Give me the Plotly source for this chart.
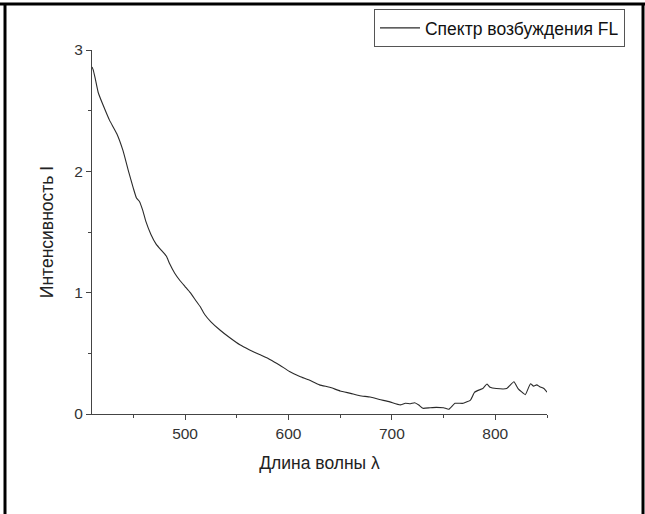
import plotly.graph_objects as go

# Wavelength (nm) and intensity
wavelength = [410, 411, 413, 416, 421, 427, 434, 440, 445, 450, 453, 456, 459, 462, 467,
              472, 478, 482, 485, 490, 495, 500, 505, 510, 515, 519, 525, 534, 543,
              553, 562, 572, 582, 592, 601, 611, 620, 630, 640, 650, 660, 669, 679,
              688, 698, 708, 713, 718, 722, 726, 730, 737, 743, 750, 755, 761, 769,
              776, 780, 785, 788, 792, 795, 801, 811, 818, 822, 829, 834, 837, 840,
              843, 847, 850]
intensity = [2.86, 2.84, 2.77, 2.65, 2.54, 2.42, 2.31, 2.17, 2.01, 1.86, 1.78, 1.75, 1.68, 1.59, 1.48,
             1.40, 1.34, 1.30, 1.24, 1.16, 1.10, 1.05, 1.00, 0.94, 0.88, 0.82, 0.76, 0.69, 0.63,
             0.57, 0.53, 0.49, 0.45, 0.40, 0.35, 0.31, 0.28, 0.24, 0.22, 0.19, 0.17, 0.15, 0.14,
             0.12, 0.10, 0.075, 0.088, 0.085, 0.093, 0.074, 0.047, 0.052, 0.055, 0.052, 0.039, 0.088, 0.088,
             0.115, 0.18, 0.20, 0.21, 0.247, 0.22, 0.21, 0.21, 0.266, 0.21, 0.16, 0.25, 0.23, 0.24,
             0.225, 0.21, 0.18]

series_name = "Спектр возбуждения FL"
x_title = "Длина волны λ"
y_title = "Интенсивность I"

fig = go.Figure()
fig.add_trace(go.Scatter(
    x=wavelength, y=intensity, mode="lines", name=series_name,
    line=dict(color="#2a2a2a", width=1.1, shape="spline", smoothing=0.4),
))

axis_color = "#444444"
fig.update_layout(
    width=645, height=514,
    margin=dict(l=92, r=98, t=50, b=100, autoexpand=False),
    paper_bgcolor="white", plot_bgcolor="white",
    font=dict(family="Liberation Sans, Arial, sans-serif", color="#222222"),
    showlegend=True,
    legend=dict(
        x=1.1714, y=1.1126, xanchor="right", yanchor="top",
        bgcolor="white", bordercolor="#555555", borderwidth=1,
        font=dict(size=17.5, color="#111111"),
        itemwidth=40,
        tracegroupgap=0,
    ),
    xaxis=dict(
        range=[410, 850], showgrid=False, zeroline=False,
        showline=True, linecolor=axis_color, linewidth=1,
        ticks="outside", ticklen=5, tickcolor=axis_color,
        tick0=0, dtick=100,
        minor=dict(ticks="outside", ticklen=3, tickcolor=axis_color, dtick=50, tick0=0, showgrid=False),
        tickfont=dict(size=15.5, color="#333333"),
        title=dict(text=x_title, font=dict(size=17.5, color="#222222"), standoff=16),
    ),
    yaxis=dict(
        range=[0, 3], showgrid=False, zeroline=False,
        showline=True, linecolor=axis_color, linewidth=1,
        ticks="outside", ticklen=5, tickcolor=axis_color,
        tick0=0, dtick=1,
        minor=dict(ticks="outside", ticklen=3, tickcolor=axis_color, dtick=0.5, tick0=0, showgrid=False),
        tickfont=dict(size=15.5, color="#333333"),
        title=dict(text=y_title, font=dict(size=17.5, color="#222222"), standoff=16),
    ),
)

# Outer frame (top, left, right edges)
frame = dict(type="line", xref="paper", yref="paper", line=dict(color="black", width=3))
fig.add_shape(**frame, x0=-0.2022, x1=1.2154, y0=1.1264, y1=1.1264)
fig.add_shape(**frame, x0=-0.1912, x1=-0.1912, y0=1.1264, y1=-0.2747)
fig.add_shape(**frame, x0=1.2110, x1=1.2110, y0=1.1264, y1=-0.2747)

fig.write_html("out.html")
